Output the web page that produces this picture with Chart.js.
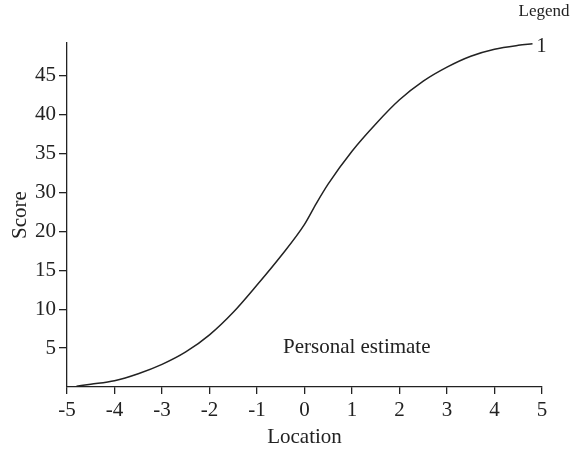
<!DOCTYPE html>
<html>
<head>
<meta charset="utf-8">
<script src="https://cdn.jsdelivr.net/npm/chart.js@4/dist/chart.umd.min.js"></script>
<style>
  html, body { margin: 0; padding: 0; background: #fff; }
  #wrap { width: 575px; height: 456px; position: relative; }
</style>
</head>
<body>
<div id="wrap"><canvas id="c" width="575" height="456"></canvas></div>
<script>
// Data
const locations = [-4.8, -4.5, -4, -3.5, -3, -2.5, -2, -1.5, -1, -0.5, 0, 0.25, 0.5, 1, 1.5, 2, 2.5, 3, 3.5, 4, 4.5, 4.8];
const scores    = [0.1, 0.35, 0.8, 1.7, 2.9, 4.5, 6.7, 9.6, 13.1, 16.8, 20.9, 23.6, 26.1, 30.3, 33.8, 36.9, 39.3, 41.1, 42.5, 43.4, 43.9, 44.1];
// Tick labels as printed in the reference (evenly spaced ticks; "25" is absent)
const yTickValues = [5, 10, 15, 20, 25, 30, 35, 40];
const yTickLabels = ["5", "10", "15", "20", "30", "35", "40", "45"];
const xTickValues = [-5, -4, -3, -2, -1, 0, 1, 2, 3, 4, 5];
const seriesName = "1";
const legendTitle = "Legend";
const noteText = "Personal estimate";
const noteAt = { x: 1.1, y: 5.1 };

const FONT = "'Liberation Serif', 'Times New Roman', serif";
const INK = '#222';

const textPlugin = {
  id: 'texts',
  afterDatasetsDraw(chart) {
    const { ctx, chartArea, scales } = chart;
    ctx.save();
    ctx.fillStyle = INK;
    ctx.textBaseline = 'middle';
    // series label at line end
    const lx = scales.x.getPixelForValue(locations[locations.length - 1]);
    const ly = scales.y.getPixelForValue(scores[scores.length - 1]);
    ctx.font = '20px ' + FONT;
    ctx.textAlign = 'left';
    ctx.fillText(seriesName, lx + 4, ly + 3);
    // legend title
    ctx.font = '17px ' + FONT;
    ctx.textAlign = 'center';
    ctx.fillText(legendTitle, chartArea.right + 2, chartArea.top - 31);
    // note
    ctx.font = '21px ' + FONT;
    ctx.fillText(noteText, scales.x.getPixelForValue(noteAt.x), scales.y.getPixelForValue(noteAt.y));
    ctx.restore();
  }
};

new Chart(document.getElementById('c'), {
  type: 'line',
  data: {
    datasets: [{
      label: seriesName,
      data: locations.map((x, i) => ({ x: x, y: scores[i] })),
      borderColor: INK,
      borderWidth: 1.5,
      pointRadius: 0,
      cubicInterpolationMode: 'monotone',
      fill: false
    }]
  },
  options: {
    responsive: false,
    animation: false,
    layout: { padding: { top: 43, right: 33, left: 0, bottom: 0 } },
    plugins: { legend: { display: false }, tooltip: { enabled: false } },
    scales: {
      x: {
        type: 'linear',
        min: -5, max: 5,
        afterBuildTicks(s) { s.ticks = xTickValues.map(v => ({ value: v })); },
        afterFit(s) { s.height = 69; },
        border: { display: true, color: INK, width: 1.3 },
        grid: { display: true, drawOnChartArea: false, drawTicks: true, tickLength: 7, color: INK, lineWidth: 1.3 },
        ticks: { color: INK, font: { family: FONT, size: 21 }, padding: 4, maxRotation: 0, autoSkip: false },
        title: { display: true, text: 'Location', color: INK, font: { family: FONT, size: 21 }, padding: { top: 0, bottom: 6 } }
      },
      y: {
        type: 'linear',
        min: 0, max: 44.2,
        afterBuildTicks(s) { s.ticks = yTickValues.map(v => ({ value: v })); },
        afterFit(s) { s.width = 67; },
        border: { display: true, color: INK, width: 1.3 },
        grid: { display: true, drawOnChartArea: false, drawTicks: true, tickLength: 8, color: INK, lineWidth: 1.3 },
        ticks: {
          color: INK, font: { family: FONT, size: 21 }, padding: 3, autoSkip: false,
          callback(value) { const i = yTickValues.indexOf(value); return i >= 0 ? yTickLabels[i] : ''; }
        },
        title: { display: true, text: 'Score', color: INK, font: { family: FONT, size: 21 }, padding: { top: 8, bottom: 0 } }
      }
    }
  },
  plugins: [textPlugin]
});
</script>
</body>
</html>
